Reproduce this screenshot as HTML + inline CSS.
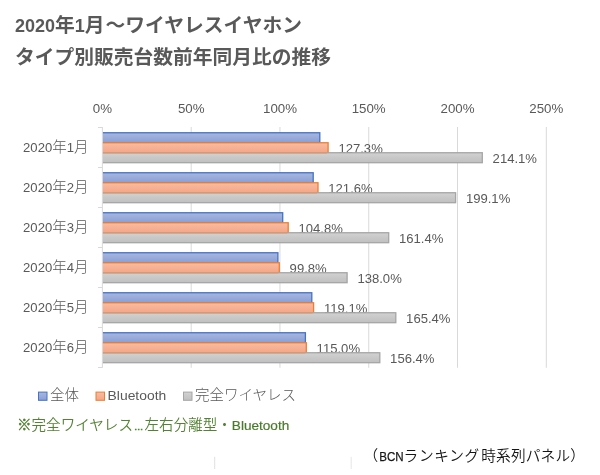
<!DOCTYPE html>
<html lang="ja">
<head>
<meta charset="utf-8">
<title>ワイヤレスイヤホン タイプ別販売台数前年同月比の推移</title>
<style>
html,body{margin:0;padding:0;background:#fff;}
body{width:600px;height:475px;overflow:hidden;}
svg{display:block;}
text{font-family:"Liberation Sans", "Noto Sans CJK JP", sans-serif;font-weight:300;}
.t{font-size:19.75px;font-weight:bold;fill:#595959;}
.td{font-size:18px;}
.ax{font-size:13.3px;fill:#595959;text-anchor:middle;}
.cat{font-size:14.5px;fill:#595959;text-anchor:end;}
.cd{font-size:13.1px;}
.dl{font-size:13.1px;fill:#595959;}
.lg{font-size:14.5px;fill:#595959;}
.lb{font-size:13.5px;}
.note{font-size:14.55px;fill:#548235;font-weight:350;}
.km{stroke:#548235;stroke-width:0.4px;}
.el{font-size:9.3px;stroke:#548235;stroke-width:0.7px;}
.nb{font-size:13.6px;fill:#4B7A2C;stroke:#4B7A2C;stroke-width:0.2px;}
.src{font-size:14.67px;fill:#151515;font-weight:350;}
.bcn{font-size:13.5px;stroke:#1a1a1a;stroke-width:0.25px;}
</style>
</head>
<body>
<svg width="600" height="475" viewBox="0 0 600 475">
<defs>
<linearGradient id="gb" x1="0" y1="0" x2="0" y2="1"><stop offset="0" stop-color="#A8B7DF"/><stop offset="0.5" stop-color="#9AABD9"/><stop offset="1" stop-color="#879ED7"/></linearGradient>
<linearGradient id="go" x1="0" y1="0" x2="0" y2="1"><stop offset="0" stop-color="#F7BDA4"/><stop offset="0.5" stop-color="#F5B195"/><stop offset="1" stop-color="#F8A581"/></linearGradient>
<linearGradient id="gg" x1="0" y1="0" x2="0" y2="1"><stop offset="0" stop-color="#D2D2D2"/><stop offset="0.5" stop-color="#C8C8C8"/><stop offset="1" stop-color="#C0C0C0"/></linearGradient>
<clipPath id="pc"><rect x="102.4" y="120" width="497.6" height="260"/></clipPath>
</defs>
<rect x="0" y="0" width="600" height="475" fill="#ffffff"/>

<text class="t" x="15" y="32"><tspan class="td">2020</tspan>年<tspan class="td">1</tspan>月<tspan dx="1">～ワイヤレスイヤホン</tspan></text>
<text class="t" x="15" y="64">タイプ別販売台数前年同月比の推移</text>
<g stroke="#D9D9D9" stroke-width="1" fill="none">
<line x1="191.18" y1="127" x2="191.18" y2="367.8"/>
<line x1="279.96" y1="127" x2="279.96" y2="367.8"/>
<line x1="368.74" y1="127" x2="368.74" y2="367.8"/>
<line x1="457.52" y1="127" x2="457.52" y2="367.8"/>
<line x1="546.30" y1="127" x2="546.30" y2="367.8"/>
</g>
<text class="ax" x="102.4" y="113.3">0%</text>
<text class="ax" x="191.2" y="113.3">50%</text>
<text class="ax" x="280.0" y="113.3">100%</text>
<text class="ax" x="368.7" y="113.3">150%</text>
<text class="ax" x="457.5" y="113.3">200%</text>
<text class="ax" x="546.3" y="113.3">250%</text>
<rect x="99.4" y="132.75" width="220.4" height="10" clip-path="url(#pc)" fill="url(#gb)" stroke="#4472C4" stroke-width="1.3"/>
<rect x="99.4" y="142.75" width="228.7" height="10" clip-path="url(#pc)" fill="url(#go)" stroke="#ED7D31" stroke-width="1.3"/>
<text class="dl" x="338.4" y="152.9">127.3%</text>
<rect x="99.4" y="152.75" width="382.9" height="9.95" clip-path="url(#pc)" fill="url(#gg)" stroke="#A5A5A5" stroke-width="1.3"/>
<line x1="102.4" y1="152.75" x2="327.1" y2="152.75" stroke="#D39A78" stroke-width="1.3"/>
<text class="dl" x="492.6" y="162.9">214.1%</text>
<text class="cat" x="88.5" y="151.8"><tspan class="cd">2020</tspan>年<tspan class="cd">1</tspan>月</text>
<rect x="99.4" y="172.75" width="213.8" height="10" clip-path="url(#pc)" fill="url(#gb)" stroke="#4472C4" stroke-width="1.3"/>
<rect x="99.4" y="182.75" width="218.6" height="10" clip-path="url(#pc)" fill="url(#go)" stroke="#ED7D31" stroke-width="1.3"/>
<text class="dl" x="328.3" y="192.9">121.6%</text>
<rect x="99.4" y="192.75" width="356.2" height="9.95" clip-path="url(#pc)" fill="url(#gg)" stroke="#A5A5A5" stroke-width="1.3"/>
<line x1="102.4" y1="192.75" x2="317.0" y2="192.75" stroke="#D39A78" stroke-width="1.3"/>
<text class="dl" x="465.9" y="202.9">199.1%</text>
<text class="cat" x="88.5" y="191.8"><tspan class="cd">2020</tspan>年<tspan class="cd">2</tspan>月</text>
<rect x="99.4" y="212.75" width="183.3" height="10" clip-path="url(#pc)" fill="url(#gb)" stroke="#4472C4" stroke-width="1.3"/>
<rect x="99.4" y="222.75" width="188.8" height="10" clip-path="url(#pc)" fill="url(#go)" stroke="#ED7D31" stroke-width="1.3"/>
<text class="dl" x="298.5" y="232.9">104.8%</text>
<rect x="99.4" y="232.75" width="289.3" height="9.95" clip-path="url(#pc)" fill="url(#gg)" stroke="#A5A5A5" stroke-width="1.3"/>
<line x1="102.4" y1="232.75" x2="287.2" y2="232.75" stroke="#D39A78" stroke-width="1.3"/>
<text class="dl" x="399.0" y="242.9">161.4%</text>
<text class="cat" x="88.5" y="231.8"><tspan class="cd">2020</tspan>年<tspan class="cd">3</tspan>月</text>
<rect x="99.4" y="252.75" width="178.5" height="10" clip-path="url(#pc)" fill="url(#gb)" stroke="#4472C4" stroke-width="1.3"/>
<rect x="99.4" y="262.75" width="179.9" height="10" clip-path="url(#pc)" fill="url(#go)" stroke="#ED7D31" stroke-width="1.3"/>
<text class="dl" x="289.6" y="272.9">99.8%</text>
<rect x="99.4" y="272.75" width="247.7" height="9.95" clip-path="url(#pc)" fill="url(#gg)" stroke="#A5A5A5" stroke-width="1.3"/>
<line x1="102.4" y1="272.75" x2="278.3" y2="272.75" stroke="#D39A78" stroke-width="1.3"/>
<text class="dl" x="357.4" y="282.9">138.0%</text>
<text class="cat" x="88.5" y="271.8"><tspan class="cd">2020</tspan>年<tspan class="cd">4</tspan>月</text>
<rect x="99.4" y="292.75" width="212.4" height="10" clip-path="url(#pc)" fill="url(#gb)" stroke="#4472C4" stroke-width="1.3"/>
<rect x="99.4" y="302.75" width="214.2" height="10" clip-path="url(#pc)" fill="url(#go)" stroke="#ED7D31" stroke-width="1.3"/>
<text class="dl" x="323.9" y="312.9">119.1%</text>
<rect x="99.4" y="312.75" width="296.4" height="9.95" clip-path="url(#pc)" fill="url(#gg)" stroke="#A5A5A5" stroke-width="1.3"/>
<line x1="102.4" y1="312.75" x2="312.6" y2="312.75" stroke="#D39A78" stroke-width="1.3"/>
<text class="dl" x="406.1" y="322.9">165.4%</text>
<text class="cat" x="88.5" y="311.8"><tspan class="cd">2020</tspan>年<tspan class="cd">5</tspan>月</text>
<rect x="99.4" y="332.75" width="206.0" height="10" clip-path="url(#pc)" fill="url(#gb)" stroke="#4472C4" stroke-width="1.3"/>
<rect x="99.4" y="342.75" width="206.9" height="10" clip-path="url(#pc)" fill="url(#go)" stroke="#ED7D31" stroke-width="1.3"/>
<text class="dl" x="316.6" y="352.9">115.0%</text>
<rect x="99.4" y="352.75" width="280.4" height="9.95" clip-path="url(#pc)" fill="url(#gg)" stroke="#A5A5A5" stroke-width="1.3"/>
<line x1="102.4" y1="352.75" x2="305.3" y2="352.75" stroke="#D39A78" stroke-width="1.3"/>
<text class="dl" x="390.1" y="362.9">156.4%</text>
<text class="cat" x="88.5" y="351.8"><tspan class="cd">2020</tspan>年<tspan class="cd">6</tspan>月</text>
<g stroke="#D9D9D9" stroke-width="1" fill="none">
<line x1="102.4" y1="127" x2="102.4" y2="367.8"/>
<line x1="98" y1="127.5" x2="102.4" y2="127.5"/>
<line x1="98" y1="167.5" x2="102.4" y2="167.5"/>
<line x1="98" y1="207.5" x2="102.4" y2="207.5"/>
<line x1="98" y1="247.5" x2="102.4" y2="247.5"/>
<line x1="98" y1="287.5" x2="102.4" y2="287.5"/>
<line x1="98" y1="327.5" x2="102.4" y2="327.5"/>
<line x1="98" y1="367.5" x2="102.4" y2="367.5"/>
</g>
<rect x="38.5" y="392.1" width="8.5" height="8.2" fill="url(#gb)" stroke="#4472C4" stroke-width="1"/>
<text class="lg" x="50" y="400.2">全体</text>
<rect x="96.0" y="392.1" width="8.5" height="8.2" fill="url(#go)" stroke="#ED7D31" stroke-width="1"/>
<text class="lg lb" x="107.6" y="400.2" textLength="58.6" lengthAdjust="spacingAndGlyphs">Bluetooth</text>
<rect x="183.5" y="392.1" width="8.5" height="8.2" fill="url(#gg)" stroke="#A5A5A5" stroke-width="1"/>
<text class="lg" x="195" y="400.2">完全ワイヤレス</text>
<text class="note" x="17" y="429.8"><tspan class="km">※</tspan>完全ワイヤレス<tspan class="el" dx="1">…</tspan><tspan dx="1.3">左右分離型・</tspan><tspan class="nb">Bluetooth</tspan></text>
<line x1="214.7" y1="456.8" x2="214.7" y2="469" stroke="#E0E0E0" stroke-width="1"/>
<line x1="351.2" y1="456.8" x2="351.2" y2="469" stroke="#E6E6E6" stroke-width="1"/>
<text class="src" y="461"><tspan x="363.5">（</tspan><tspan class="bcn" x="379.2" textLength="24.4" lengthAdjust="spacingAndGlyphs">BCN</tspan><tspan x="403.6" letter-spacing="0.7">ランキング</tspan> <tspan x="481.2" letter-spacing="0.2">時系列パネル）</tspan></text>
</svg>
</body>
</html>
